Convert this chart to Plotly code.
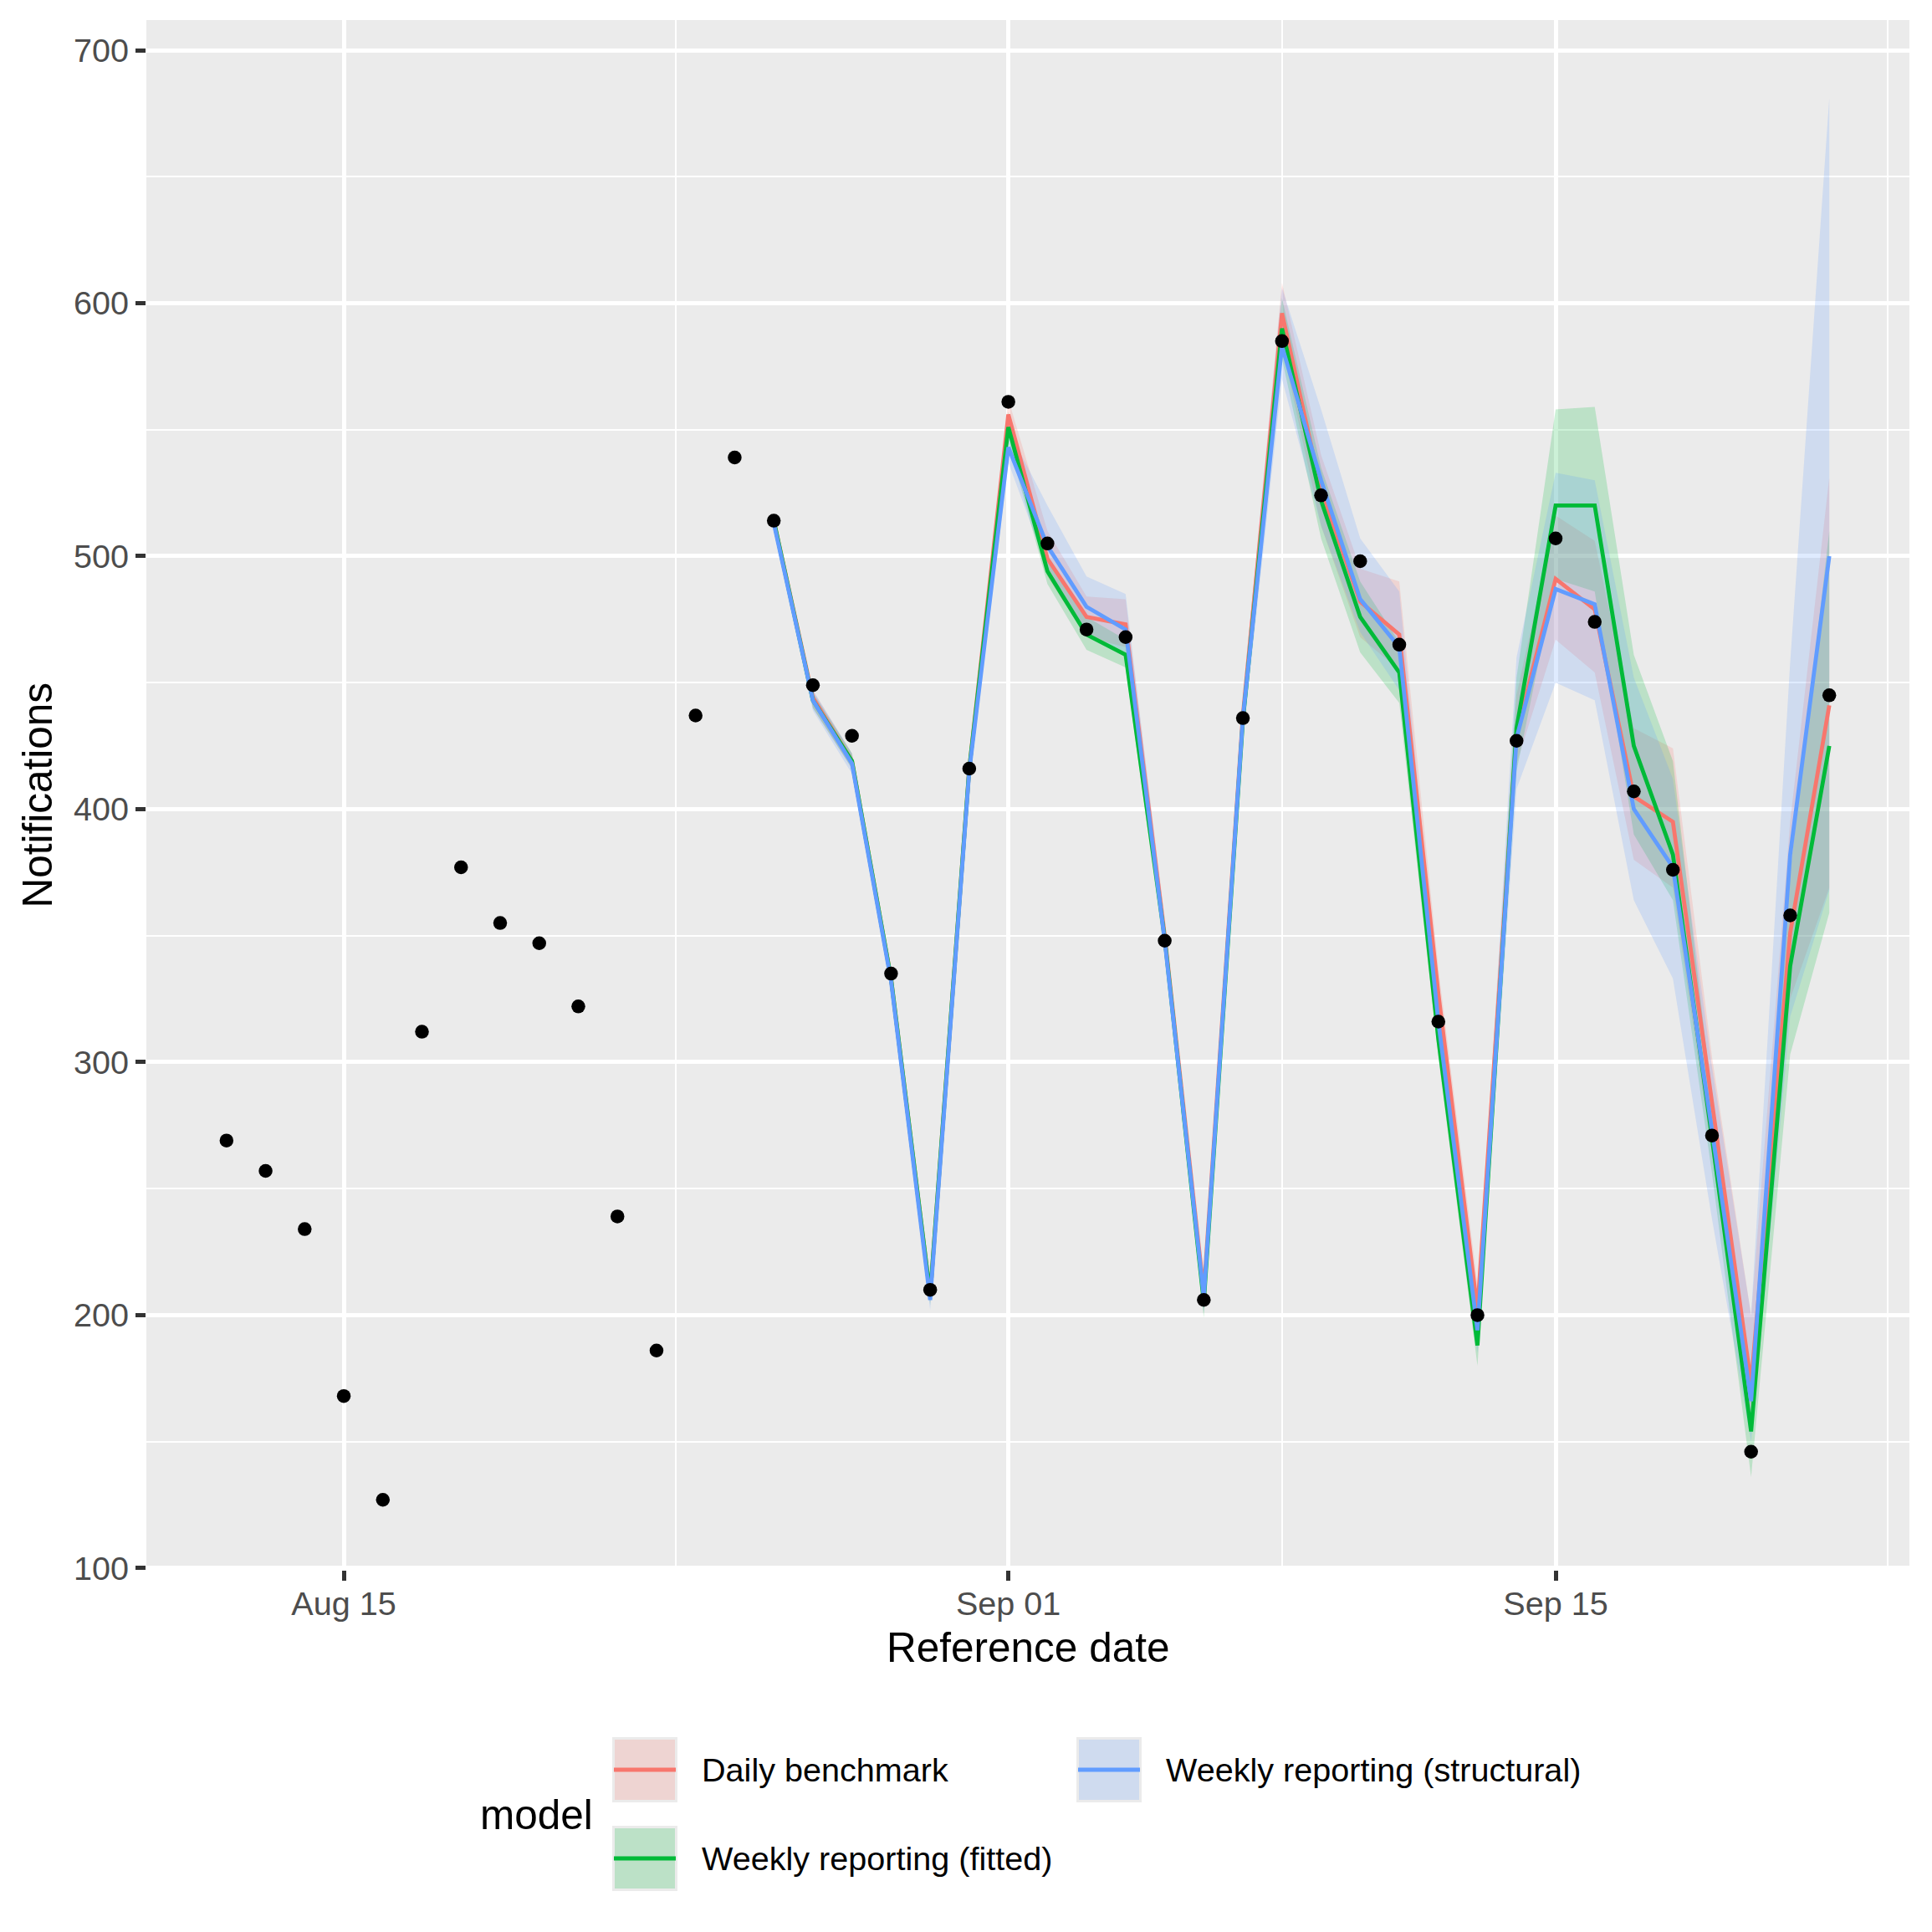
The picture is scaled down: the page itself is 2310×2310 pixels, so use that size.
import plotly.graph_objects as go

# ---------------- data ----------------
obs_dates = [
    "2021-08-12", "2021-08-13", "2021-08-14", "2021-08-15", "2021-08-16", "2021-08-17",
    "2021-08-18", "2021-08-19", "2021-08-20", "2021-08-21", "2021-08-22", "2021-08-23",
    "2021-08-24", "2021-08-25", "2021-08-26", "2021-08-27", "2021-08-28", "2021-08-29",
    "2021-08-30", "2021-08-31", "2021-09-01", "2021-09-02", "2021-09-03", "2021-09-04",
    "2021-09-05", "2021-09-06", "2021-09-07", "2021-09-08", "2021-09-09", "2021-09-10",
    "2021-09-11", "2021-09-12", "2021-09-13", "2021-09-14", "2021-09-15", "2021-09-16",
    "2021-09-17", "2021-09-18", "2021-09-19", "2021-09-20", "2021-09-21", "2021-09-22",
]
obs_values = [269, 257, 234, 168, 127, 312, 377, 355, 347, 322, 239, 186, 437, 539,
              514, 449, 429, 335, 210, 416, 561, 505, 471, 468, 348, 206, 436, 585,
              524, 498, 465, 316, 200, 427, 507, 474, 407, 376, 271, 146, 358, 445]

model_dates = [
    "2021-08-26", "2021-08-27", "2021-08-28", "2021-08-29", "2021-08-30", "2021-08-31",
    "2021-09-01", "2021-09-02", "2021-09-03", "2021-09-04", "2021-09-05", "2021-09-06",
    "2021-09-07", "2021-09-08", "2021-09-09", "2021-09-10", "2021-09-11", "2021-09-12",
    "2021-09-13", "2021-09-14", "2021-09-15", "2021-09-16", "2021-09-17", "2021-09-18",
    "2021-09-19", "2021-09-20", "2021-09-21", "2021-09-22",
]

daily_median = [514, 444, 419, 333, 208, 416, 556, 499, 476, 473, 350, 209, 437, 596,
                526, 482, 469, 327, 202, 430, 491, 479, 405, 395, 284, 173, 351, 441]
daily_lower = [511, 440, 416, 330, 205, 412, 550, 492, 468, 464, 343, 203, 430, 583,
               512, 468, 455, 317, 194, 418, 467, 454, 380, 369, 264, 158, 325, 369]
daily_upper = [517, 447, 422, 336, 211, 420, 562, 510, 484, 483, 357, 214, 444, 608,
               540, 495, 490, 337, 212, 445, 516, 506, 432, 424, 302, 200, 395, 531]

fitted_median = [514, 443, 419, 333, 208, 416, 551, 494, 469, 461, 349, 205, 435, 590,
                 522, 476, 454, 309, 188, 432, 520, 520, 425, 382, 270, 154, 338, 425]
fitted_lower = [511, 440, 416, 330, 204, 412, 545, 489, 463, 456, 342, 199, 428, 578,
                507, 462, 442, 302, 180, 415, 491, 486, 390, 364, 256, 136, 303, 359]
fitted_upper = [517, 446, 422, 336, 211, 419, 557, 500, 476, 467, 355, 211, 442, 602,
                535, 490, 466, 317, 197, 452, 558, 559, 461, 419, 286, 172, 375, 510]

struct_median = [513, 443, 418, 332, 206, 415, 543, 504, 480, 471, 348, 207, 436, 583,
                 530, 483, 464, 316, 194, 428, 487, 481, 400, 377, 273, 166, 382, 500]
struct_lower = [510, 439, 414, 328, 202, 410, 537, 495, 470, 462, 342, 201, 428, 570,
                512, 470, 447, 306, 185, 408, 450, 443, 364, 333, 238, 150, 318, 368]
struct_upper = [517, 447, 422, 336, 210, 420, 550, 520, 492, 485, 355, 213, 445, 606,
                558, 507, 486, 326, 202, 460, 533, 530, 452, 412, 298, 200, 458, 681]

model_names = ["Daily benchmark", "Weekly reporting (fitted)", "Weekly reporting (structural)"]

x_tick_vals = ["2021-08-15", "2021-09-01", "2021-09-15"]
x_tick_text = ["Aug 15", "Sep 01", "Sep 15"]
x_minor_vals = ["2021-08-23 12:00", "2021-09-08", "2021-09-23 12:00"]
y_tick_vals = [100, 200, 300, 400, 500, 600, 700]

# ---------------- styling ----------------
W = H = 2310
PL, PR, PT, PB = 175, 2283, 24, 1877  # panel box in pixels
line_colors = ["#F8766D", "#00BA38", "#619CFF"]
fill_colors = ["rgba(248,118,109,0.2)", "rgba(0,186,56,0.2)", "rgba(97,156,255,0.2)"]
FONT = "Liberation Sans, Arial, Helvetica, sans-serif"
LW = 4.8


def px(x):
    return (x - PL) / (PR - PL)


def py(y):
    return (PB - y) / (PB - PT)


series = [
    (daily_median, daily_lower, daily_upper),
    (fitted_median, fitted_lower, fitted_upper),
    (struct_median, struct_lower, struct_upper),
]

fig = go.Figure()

# ribbons
for (med, lo, hi), fc, name in zip(series, fill_colors, model_names):
    fig.add_trace(go.Scatter(
        x=model_dates + model_dates[::-1],
        y=hi + lo[::-1],
        fill="toself", fillcolor=fc, mode="lines",
        line=dict(width=0, color="rgba(0,0,0,0)"),
        hoverinfo="skip", showlegend=False, name=name + " interval",
    ))

# lines
for (med, lo, hi), lc, name in zip(series, line_colors, model_names):
    fig.add_trace(go.Scatter(
        x=model_dates, y=med, mode="lines",
        line=dict(color=lc, width=LW), name=name, showlegend=False,
    ))

# observed points
fig.add_trace(go.Scatter(
    x=obs_dates, y=obs_values, mode="markers",
    marker=dict(color="black", size=16.5, line=dict(width=0)),
    name="Observed", showlegend=False,
))

axis_common = dict(
    showgrid=True, gridcolor="white", gridwidth=LW,
    ticks="outside", ticklen=12, tickwidth=LW, tickcolor="#333333",
    tickfont=dict(family=FONT, size=39.6, color="#4D4D4D"),
    zeroline=False, showline=False,
)

fig.update_layout(
    width=W, height=H,
    margin=dict(l=PL, r=W - PR, t=PT, b=H - PB, pad=0),
    paper_bgcolor="white", plot_bgcolor="#EBEBEB",
    showlegend=False,
    xaxis=dict(
        type="date",
        range=["2021-08-09 22:48", "2021-09-24 01:12"],
        tickmode="array", tickvals=x_tick_vals, ticktext=x_tick_text,
        ticklabelstandoff=-7,
        minor=dict(tickmode="array", tickvals=x_minor_vals, showgrid=True,
                   gridcolor="white", gridwidth=LW / 2, ticks=""),
        **axis_common,
    ),
    yaxis=dict(
        range=[99.3, 711.9],
        tickmode="array", tickvals=y_tick_vals,
        minor=dict(dtick=50, tick0=0, showgrid=True, gridcolor="white",
                   gridwidth=LW / 2, ticks=""),
        **axis_common,
    ),
)

annotations = [
    dict(text="Reference date", x=0.5, y=py(1970), xref="paper", yref="paper",
         xanchor="center", yanchor="middle", showarrow=False,
         font=dict(family=FONT, size=49.5, color="black")),
    dict(text="Notifications", x=px(44), y=0.5, xref="paper", yref="paper",
         xanchor="center", yanchor="middle", textangle=-90, showarrow=False,
         font=dict(family=FONT, size=49.5, color="black")),
    dict(text="model", x=px(572), y=py(2169), xref="paper", yref="paper",
         xanchor="left", yanchor="middle", showarrow=False,
         font=dict(family=FONT, size=49.5, color="black")),
]

shapes = []
KEY = 78
key_pos = [(732, 2077), (732, 2183), (1287, 2077)]
for (kx, ky), lc, fc, name in zip(key_pos, line_colors, fill_colors, model_names):
    shapes.append(dict(type="rect", xref="paper", yref="paper",
                       x0=px(kx), x1=px(kx + KEY), y0=py(ky), y1=py(ky + KEY),
                       fillcolor="#EBEBEB", line=dict(width=0), layer="above"))
    shapes.append(dict(type="rect", xref="paper", yref="paper",
                       x0=px(kx + 3), x1=px(kx + KEY - 3), y0=py(ky + 3), y1=py(ky + KEY - 3),
                       fillcolor=fc, line=dict(width=0), layer="above"))
    shapes.append(dict(type="line", xref="paper", yref="paper",
                       x0=px(kx + 2), x1=px(kx + KEY - 2), y0=py(ky + KEY / 2), y1=py(ky + KEY / 2),
                       line=dict(color=lc, width=LW), layer="above"))
    annotations.append(dict(text=name, x=px(kx + KEY + 27), y=py(ky + KEY / 2),
                            xref="paper", yref="paper", xanchor="left", yanchor="middle",
                            showarrow=False,
                            font=dict(family=FONT, size=39.6, color="black")))

fig.update_layout(annotations=annotations, shapes=shapes)

fig.write_html("out.html")
